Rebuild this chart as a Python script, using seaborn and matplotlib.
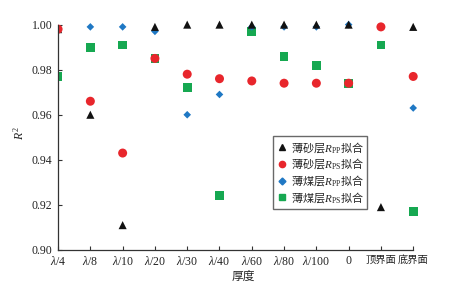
import pandas as pd
import seaborn as sns
import matplotlib.pyplot as plt
from matplotlib.lines import Line2D

# ---------------------------------------------------------------------
# data
# ---------------------------------------------------------------------
CATEGORIES = ["λ/4", "λ/8", "λ/10", "λ/20", "λ/30", "λ/40",
              "λ/60", "λ/80", "λ/100", "0", "顶界面", "底界面"]
TICK_LABELS = [r"$\lambda\mathrm{/4}$", r"$\lambda\mathrm{/8}$", r"$\lambda\mathrm{/10}$",
               r"$\lambda\mathrm{/20}$", r"$\lambda\mathrm{/30}$", r"$\lambda\mathrm{/40}$",
               r"$\lambda\mathrm{/60}$", r"$\lambda\mathrm{/80}$", r"$\lambda\mathrm{/100}$",
               "0", "顶界面", "底界面"]

sand_pp = [0.998, 0.960, 0.911, 0.999, 1.000, 1.000, 1.000, 1.000, 1.000, 1.000, 0.919, 0.999]
sand_ps = [0.998, 0.966, 0.943, 0.985, 0.978, 0.976, 0.975, 0.974, 0.974, 0.974, 0.999, 0.977]
coal_pp = [0.998, 0.999, 0.999, 0.997, 0.960, 0.969, 0.999, 0.999, 0.999, 1.000, 0.999, 0.963]
coal_ps = [0.977, 0.990, 0.991, 0.985, 0.972, 0.924, 0.997, 0.986, 0.982, 0.974, 0.991, 0.917]

SERIES = ["sand_pp", "sand_ps", "coal_pp", "coal_ps"]
LABELS = {
    "sand_pp": r"$\mathsf{薄砂层}R_{\mathrm{PP}}\mathsf{拟合}$",
    "sand_ps": r"$\mathsf{薄砂层}R_{\mathrm{PS}}\mathsf{拟合}$",
    "coal_pp": r"$\mathsf{薄煤层}R_{\mathrm{PP}}\mathsf{拟合}$",
    "coal_ps": r"$\mathsf{薄煤层}R_{\mathrm{PS}}\mathsf{拟合}$",
}
COLORS = {"sand_pp": "#111111", "sand_ps": "#e8262c", "coal_pp": "#1f78c4", "coal_ps": "#16a851"}
MARKERS = {"sand_pp": "^", "sand_ps": "o", "coal_pp": "D", "coal_ps": "s"}
SIZES = {"sand_pp": 34, "sand_ps": 42, "coal_pp": 15, "coal_ps": 40}
DRAW_ORDER = ["coal_ps", "coal_pp", "sand_pp", "sand_ps"]

values = {"sand_pp": sand_pp, "sand_ps": sand_ps, "coal_pp": coal_pp, "coal_ps": coal_ps}
df = pd.concat(
    [pd.DataFrame({"thick": CATEGORIES, "r2": values[k], "series": k}) for k in DRAW_ORDER],
    ignore_index=True,
)

# ---------------------------------------------------------------------
# plot
# ---------------------------------------------------------------------
sns.set_style("ticks")
plt.rcParams["font.family"] = ["Liberation Serif", "Noto Sans CJK SC"]
plt.rcParams["mathtext.fontset"] = "custom"
plt.rcParams["mathtext.rm"] = "Liberation Serif"
plt.rcParams["mathtext.it"] = "Liberation Serif:italic"
plt.rcParams["mathtext.sf"] = "Noto Sans CJK SC"

fig = plt.figure(figsize=(4.76, 2.84), dpi=100)
ax = fig.add_axes([0.122, 0.12, 0.78, 0.825])

for key in DRAW_ORDER:
    sub = df[df["series"] == key]
    sns.scatterplot(data=sub, x="thick", y="r2", ax=ax, color=COLORS[key],
                    marker=MARKERS[key], s=SIZES[key], edgecolor="none",
                    linewidth=0, legend=False)

ax.set_xlim(0, 11.5)
ax.set_ylim(0.90, 1.004)
ax.spines["left"].set_bounds(0.90, 1.00)
ax.spines["bottom"].set_bounds(0, 11)
ax.spines["top"].set_visible(False)
ax.spines["right"].set_visible(False)
for side in ["left", "bottom"]:
    ax.spines[side].set_color("#333333")
    ax.spines[side].set_linewidth(0.9)

ax.set_xticks(range(len(CATEGORIES)))
ax.set_xticklabels(TICK_LABELS)
ax.set_yticks([0.90, 0.92, 0.94, 0.96, 0.98, 1.00])
ax.set_yticklabels(["0.90", "0.92", "0.94", "0.96", "0.98", "1.00"])
ax.tick_params(axis="both", direction="in", length=3, width=0.8, labelsize=8.5,
               colors="#333333", labelcolor="#222222", pad=4)
for lab in ax.get_xticklabels()[-2:]:
    lab.set_fontsize(7.4)

ax.set_xlabel("厚度", fontsize=8.5, labelpad=1, family=["Noto Sans CJK SC"])
ax.set_ylabel(r"$R^2$", fontsize=8.5, labelpad=4)

handles = [Line2D([], [], linestyle="none", marker=MARKERS[k], color=COLORS[k],
                  markersize=4.5 if k != "coal_pp" else 3.5) for k in SERIES]
leg = ax.legend(handles, [LABELS[k] for k in SERIES], loc="upper left",
                bbox_to_anchor=(0.58, 0.487), frameon=True, fancybox=False,
                fontsize=8, handlelength=0.8, handletextpad=0.4,
                labelspacing=0.15, borderpad=0.35, borderaxespad=0)
leg.get_frame().set_edgecolor("#444444")
leg.get_frame().set_linewidth(1.0)

fig.savefig("out.png", dpi=100)
